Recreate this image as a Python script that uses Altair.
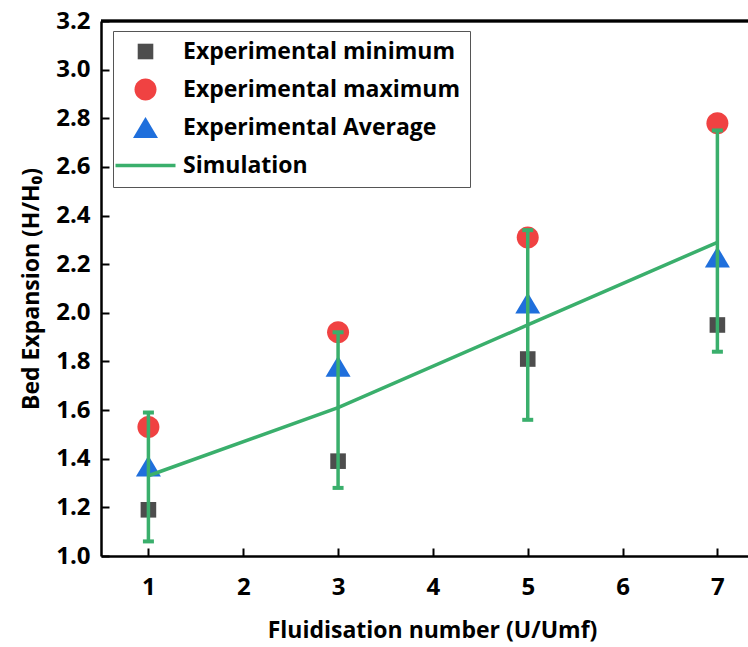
import altair as alt
import pandas as pd

# ---- data ----
x_vals = [1, 3, 5, 7]
exp_min = [1.19, 1.39, 1.81, 1.95]
exp_max = [1.53, 1.92, 2.31, 2.78]
exp_avg = [1.37, 1.78, 2.04, 2.23]
sim = [1.33, 1.61, 1.95, 2.29]
err_lo = [1.06, 1.28, 1.56, 1.84]
err_hi = [1.59, 1.92, 2.34, 2.75]

series_names = ["Experimental minimum", "Experimental maximum", "Experimental Average", "Simulation"]
GREEN = "#3aaf6c"
fill_colors = ["#4d4d4d", "#f04242", "#1f6fdc", GREEN]
# symbol outlines in unit coordinates (1 unit = 10 px at symbol size 400)
shapes = [
    "M-0.78,-0.78H0.78V0.78H-0.78Z",
    "M-1.1,0A1.1,1.1,0,1,1,1.1,0A1.1,1.1,0,1,1,-1.1,0Z",
    "M0,-1.05L1.25,1.05L-1.25,1.05Z",
    "M-3,-0.17H3V0.17H-3Z",
]

rows = []
for name, vals in zip(series_names[:3], [exp_min, exp_max, exp_avg]):
    for xv, v in zip(x_vals, vals):
        rows.append({"x": xv, "y": v, "series": name})
pts = pd.DataFrame(rows)
line_df = pd.DataFrame({"x": x_vals, "y": sim})
err_df = pd.DataFrame({"x": x_vals, "lo": err_lo, "hi": err_hi})

W, H = 647, 535
xscale = alt.Scale(domain=[0.5, 0.5 + W / 94.83], nice=False, zero=False)
yscale = alt.Scale(domain=[1.0, 3.2], nice=False, zero=False)

FONT = "Open Sans"
xaxis = alt.Axis(values=[1, 2, 3, 4, 5, 6, 7], title="Fluidisation number (U/Umf)",
                 titleX=331, tickSize={"expr": "-8"}, labelPadding=27, titlePadding=20,
                 grid=False)
yaxis = alt.Axis(values=[1.0, 1.2, 1.4, 1.6, 1.8, 2.0, 2.2, 2.4, 2.6, 2.8, 3.0, 3.2],
                 format=".1f", title="Bed Expansion (H/H\u2080)",
                 tickSize={"expr": "-8"}, labelPadding=19, titlePadding=12, grid=False)

X = alt.X("x:Q", scale=xscale, axis=xaxis)
Y = alt.Y("y:Q", scale=yscale, axis=yaxis)

legend = alt.Legend(title=None, orient="none", legendX=12, legendY=10,
                    padding=9, strokeColor="#555555", fillColor="white",
                    labelFont=FONT, labelFontWeight="bold", labelFontSize=23,
                    labelColor="black", labelOffset=26, rowPadding=14,
                    symbolOffset=12, symbolSize=400, symbolStrokeWidth=0,
                    symbolOpacity=1, labelLimit=400)

points = alt.Chart(pts).mark_point(filled=True, opacity=1, size=400, strokeWidth=0).encode(
    x=X, y=Y,
    fill=alt.Fill("series:N", scale=alt.Scale(domain=series_names, range=fill_colors), legend=legend),
    shape=alt.Shape("series:N", scale=alt.Scale(domain=series_names, range=shapes), legend=legend),
)

line = alt.Chart(line_df).mark_line(strokeWidth=3.5, color=GREEN).encode(
    x=alt.X("x:Q", scale=xscale, axis=xaxis), y=alt.Y("y:Q", scale=yscale, axis=yaxis))

bars = alt.Chart(err_df).mark_rule(color=GREEN, strokeWidth=3.5).encode(
    x=alt.X("x:Q", scale=xscale, axis=xaxis), y=alt.Y("lo:Q", scale=yscale, axis=yaxis), y2="hi:Q")
cap_lo = alt.Chart(err_df).mark_tick(color=GREEN, orient="horizontal", size=11, thickness=4, opacity=1).encode(
    x=alt.X("x:Q", scale=xscale, axis=xaxis), y=alt.Y("lo:Q", scale=yscale, axis=yaxis))
cap_hi = alt.Chart(err_df).mark_tick(color=GREEN, orient="horizontal", size=11, thickness=4, opacity=1).encode(
    x=alt.X("x:Q", scale=xscale, axis=xaxis), y=alt.Y("hi:Q", scale=yscale, axis=yaxis))

top_frame = alt.Chart(err_df).mark_rule(color="black", strokeWidth=2.5).encode(
    x=alt.value(0), x2=alt.value(W), y=alt.value(0))

chart = alt.layer(points, line, bars, cap_lo, cap_hi, top_frame).properties(
    width=W, height=H,
    background="white",
    autosize=alt.AutoSizeParams(type="none"),
    padding={"left": 101, "top": 21, "right": 0, "bottom": 91},
).configure_view(stroke=None).configure_axis(
    domainColor="black", domainWidth=2.5, tickColor="black", tickWidth=2,
    labelFont=FONT, labelFontWeight="bold", labelFontSize=24, labelColor="black",
    titleFont=FONT, titleFontWeight="bold", titleFontSize=23, titleColor="black",
)

chart.save("out.html", embed_options={"renderer": "svg", "actions": False})
